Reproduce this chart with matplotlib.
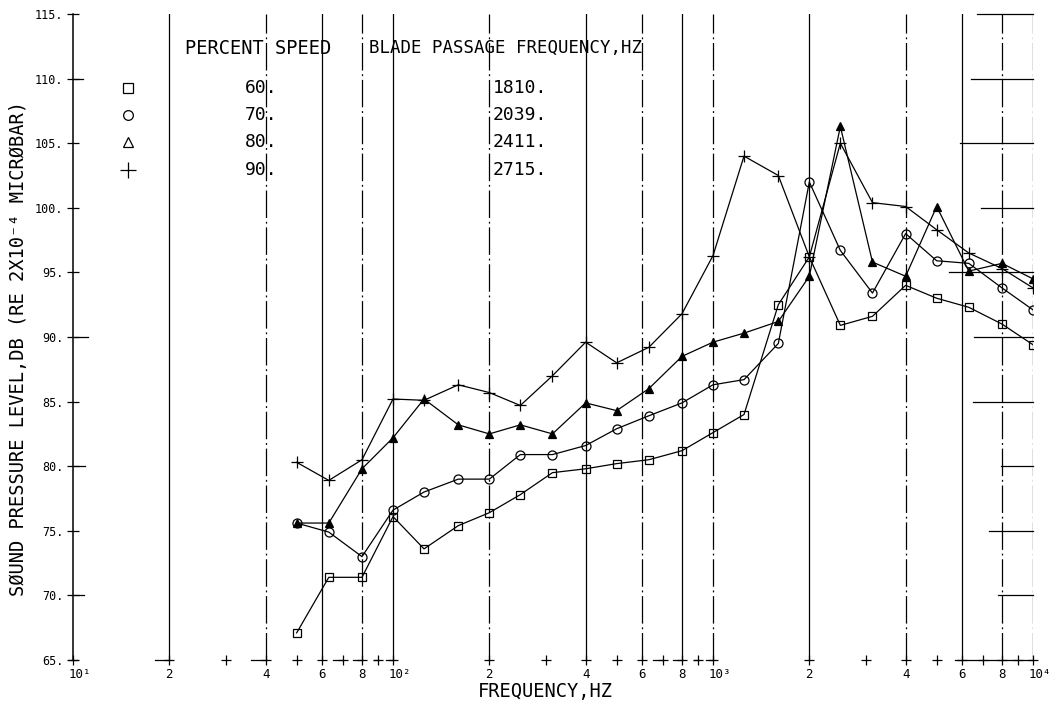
import matplotlib
matplotlib.use("Agg")
import matplotlib.pyplot as plt
from matplotlib.lines import Line2D
from matplotlib.transforms import blended_transform_factory

# ---- data: one-third-octave band spectra at four rotor speeds ----
freq_hz = [50, 63, 80, 100, 125, 160, 200, 250, 315, 400, 500, 630,
           800, 1000, 1250, 1600, 2000, 2500, 3150, 4000, 5000, 6300, 8000, 10000]

spl_60 = [67.1, 71.4, 71.4, 76.1, 73.6, 75.4, 76.4, 77.8, 79.5, 79.8, 80.2, 80.5,
          81.2, 82.6, 84.0, 92.5, 96.2, 90.9, 91.6, 94.0, 93.0, 92.3, 91.0, 89.4]
spl_70 = [75.6, 74.9, 73.0, 76.6, 78.0, 79.0, 79.0, 80.9, 80.9, 81.6, 82.9, 83.9,
          84.9, 86.3, 86.7, 89.5, 102.0, 96.7, 93.4, 98.0, 95.9, 95.7, 93.8, 92.1]
spl_80 = [75.6, 75.6, 79.8, 82.2, 85.2, 83.2, 82.5, 83.2, 82.5, 84.9, 84.3, 86.0,
          88.5, 89.6, 90.3, 91.2, 94.7, 106.3, 95.8, 94.7, 100.1, 95.1, 95.7, 94.5]
spl_90 = [80.3, 78.9, 80.5, 85.2, 85.1, 86.3, 85.7, 84.7, 87.0, 89.6, 88.0, 89.2,
          91.8, 96.3, 104.0, 102.5, 96.2, 105.0, 100.4, 100.1, 98.3, 96.5, 95.3, 93.8]

percent_speed = ["60.", "70.", "80.", "90."]
blade_passage = ["1810.", "2039.", "2411.", "2715."]

ytick_values = [65, 70, 75, 80, 85, 90, 95, 100, 105, 110, 115]
xtick_pos = [10, 20, 40, 60, 80, 100, 200, 400, 600, 800,
             1000, 2000, 4000, 6000, 8000, 10000]
xtick_text = ["10\u00b9", "2", "4", "6", "8", "10\u00b2", "2", "4", "6", "8",
              "10\u00b3", "2", "4", "6", "8", "10\u2074"]

# ---- figure geometry (pixels) ----
W, H, DPI = 1058, 708, 100
X0, X1, Y_TOP, Y_BOT = 73, 1033, 14, 660

plt.rcParams['font.family'] = ['DejaVu Sans Mono', 'DejaVu Sans']
fig = plt.figure(figsize=(W / DPI, H / DPI), dpi=DPI)
fig.patch.set_facecolor('white')
ax = fig.add_axes([X0 / W, 1 - Y_BOT / H, (X1 - X0) / W, (Y_BOT - Y_TOP) / H])
ax.set_xscale('log')
ax.set_xlim(10, 1e4)
ax.set_ylim(65, 115)
ax.set_facecolor('none')


def P(x, y):
    """Pixel position (from top-left) to figure fraction."""
    return x / W, 1 - y / H


LW = 0.9
DASHDOT = (0, (22, 3, 1.5, 3))

# vertical rulings
for f in [20, 60, 100, 400, 800, 2000, 6000]:
    ax.axvline(f, color='black', lw=LW, zorder=1)
for f in [40, 80, 200, 600, 1000, 4000, 8000, 10000]:
    ax.axvline(f, color='black', lw=LW, ls=DASHDOT, zorder=1)

# short horizontal rulings across the right-hand end
right_rules = [(115, 6675), (110, 6400), (105, 5905), (100, 6875), (95, 5460),
               (90, 6530), (85, 6490), (80, 7940), (75, 7280), (70, 7760),
               (65, 5700)]
for level, f_start in right_rules:
    ax.plot([f_start, 1e4], [level, level], color='black', lw=LW, zorder=1,
            clip_on=False)

# spines: only the left one is a full line
for side in ['top', 'bottom', 'right']:
    ax.spines[side].set_visible(False)
ax.spines['left'].set_linewidth(1.1)

# y ticks
ax.set_yticks(ytick_values)
ax.set_yticklabels([f"{v}." for v in ytick_values], fontsize=8.5)
ax.tick_params(axis='y', direction='inout', length=8, width=0.9, pad=3)
ax.set_xticks([])
ax.xaxis.set_minor_locator(matplotlib.ticker.NullLocator())
yblend = blended_transform_factory(ax.transAxes, ax.transData)
for v, ln in [(110, 0.010), (90, 0.016), (80, 0.013), (70, 0.011)]:
    ax.plot([0, ln], [v, v], color='black', lw=LW, transform=yblend, clip_on=False)

# x axis: cross ticks along the bottom
minor = [m * 10 ** d for d in range(1, 4) for m in range(1, 10)] + [10000]
ax.plot(minor, [65] * len(minor), ls='none', marker='+', ms=7, mew=0.9,
        color='black', clip_on=False, zorder=3)
for a, b in [(18, 20), (36, 40), (65, 70), (75, 80), (87, 90), (95, 100),
             (650, 700), (750, 800), (870, 900), (950, 1000)]:
    ax.plot([a, b], [65, 65], color='black', lw=LW, clip_on=False)

xblend = ax.get_xaxis_transform()
for f, t in zip(xtick_pos, xtick_text):
    if t.startswith("10"):
        ax.text(f / 1.03, -0.012, t, transform=xblend, ha='left', va='top',
                fontsize=9)
    else:
        ax.text(f, -0.012, t, transform=xblend, ha='center', va='top',
                fontsize=9)

# spectra
series = [
    (spl_60, dict(marker='s', ms=6, mfc='none')),
    (spl_70, dict(marker='o', ms=6.5, mfc='none')),
    (spl_80, dict(marker='^', ms=6, mfc='black')),
    (spl_90, dict(marker='+', ms=8)),
]
for vals, st in series:
    ax.plot(freq_hz, vals, color='black', lw=LW, mec='black', mew=0.9,
            zorder=4, **st)

# key
TXT = 13
fig.text(*P(185, 48), "PERCENT SPEED", fontsize=13.5, ha='left', va='center')
fig.text(*P(369, 48), "BLADE PASSAGE FREQUENCY,HZ", fontsize=12.5, ha='left',
         va='center')
row_y = [88, 115, 142, 170]
key_markers = [dict(marker='s', ms=7, mfc='none'), dict(marker='o', ms=7, mfc='none'),
               dict(marker='^', ms=7, mfc='none'), dict(marker='+', ms=11)]
for y, sp, bp, km in zip(row_y, percent_speed, blade_passage, key_markers):
    fx, fy = P(128, y)
    fig.add_artist(Line2D([fx], [fy], transform=fig.transFigure, color='black',
                          mec='black', mew=0.9, ls='none', **km))
    fig.text(*P(277, y), sp, fontsize=TXT, ha='right', va='center')
    fig.text(*P(493, y), bp, fontsize=TXT, ha='left', va='center')

# axis titles
fig.text(*P(545, 692), "FREQUENCY,HZ", fontsize=13.5, ha='center', va='center')
fig.text(*P(19, 348), "S\u00d8UND PRESSURE LEVEL,DB (RE 2X10\u207b\u2074 MICR\u00d8BAR)",
         fontsize=13.5, rotation=90, ha='center', va='center')

fig.savefig("out.png", dpi=DPI, facecolor='white')
